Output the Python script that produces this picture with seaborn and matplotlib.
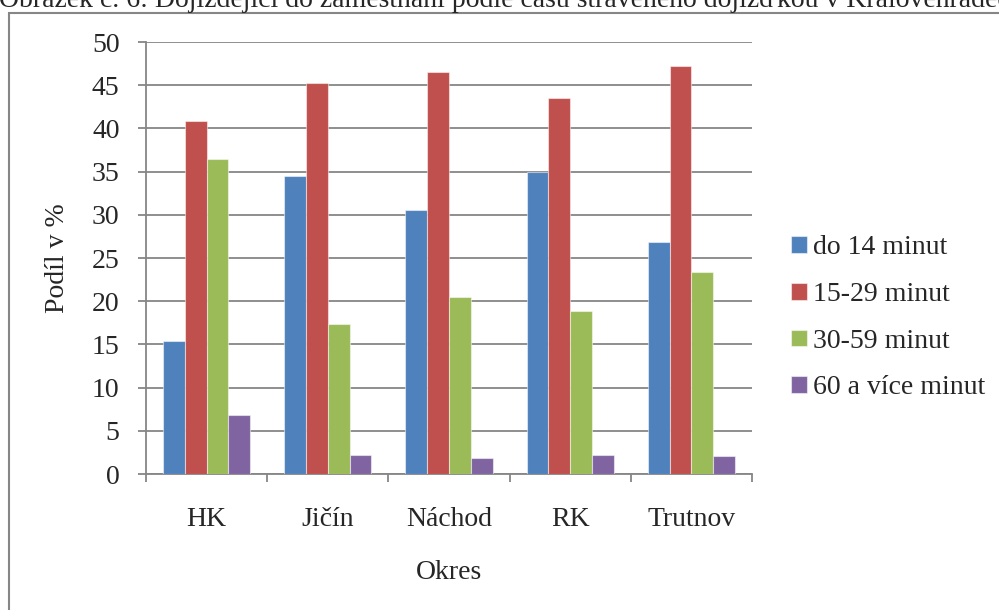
import numpy as np
import pandas as pd
import seaborn as sns
import matplotlib.pyplot as plt
from matplotlib.patches import Rectangle

# data
okresy = ['HK', 'Jičín', 'Náchod', 'RK', 'Trutnov']
kategorie = ['do 14 minut', '15-29 minut', '30-59 minut', '60 a více minut']
do_14 = [15.4, 34.5, 30.5, 34.9, 26.8]
od_15_29 = [40.8, 45.2, 46.5, 43.5, 47.2]
od_30_59 = [36.5, 17.4, 20.5, 18.9, 23.4]
nad_60 = [6.8, 2.2, 1.9, 2.2, 2.1]
barvy = ['#4F81BD', '#C0504D', '#9BBB59', '#8064A2']

hodnoty = [do_14, od_15_29, od_30_59, nad_60]
df = pd.DataFrame({
    'Okres': okresy * len(kategorie),
    'Podil': np.concatenate(hodnoty),
    'Cas': np.repeat(kategorie, len(okresy)),
})

sns.set_style('white')
plt.rcParams['font.family'] = ['Liberation Serif', 'DejaVu Serif']

W, H = 999, 610
fig = plt.figure(figsize=(W / 100, H / 100), dpi=100)

# outer chart frame (runs off the right and bottom edge)
fig.patches.append(Rectangle((9 / W, -0.1), 1.2, 1 - 13 / H + 0.1,
                             transform=fig.transFigure, fill=False,
                             edgecolor='#868686', linewidth=1.5))

# caption of the figure, cut by the top edge as in the source
fig.text(-0.001, 1 - 7 / H,
         'Obrázek č. 6: Dojíždějící do zaměstnání podle času stráveného dojížďkou v Královéhradeckém kraji',
         fontsize=20, ha='left', va='baseline')

ax = fig.add_axes([146 / W, 1 - 474 / H, (752 - 146) / W, (474 - 42) / H])
sns.barplot(data=df, x='Okres', y='Podil', hue='Cas', palette=barvy,
            width=0.72, saturation=1, ax=ax, edgecolor=(1, 1, 1, 0.5),
            linewidth=0.8, zorder=3)

ax.set_ylim(0, 50)
ax.set_xlim(-0.5, len(okresy) - 0.5)
ax.set_yticks(range(0, 51, 5))
ax.yaxis.grid(True, color='#868686', linewidth=1.3)
ax.set_axisbelow(True)
for s in ['top', 'right']:
    ax.spines[s].set_visible(False)
for s in ['left', 'bottom']:
    ax.spines[s].set_color('#868686')
    ax.spines[s].set_linewidth(1.3)

ax.tick_params(axis='y', length=6, width=1.3, color='#868686', left=True,
               labelsize=20, pad=13)
ax.set_xticks(np.arange(-0.5, len(okresy)), minor=True)
ax.tick_params(axis='x', which='minor', length=6, width=1.3, color='#868686',
               bottom=True)
ax.tick_params(axis='x', which='major', length=0, labelsize=20, pad=24)

ax.set_xlabel('Okres', fontsize=20, labelpad=20)
ax.set_ylabel('Podíl v %', fontsize=20, labelpad=16)

ax.legend(loc='center left', bbox_to_anchor=(1.065, 1 - (318 - 42) / 432),
          frameon=False, fontsize=20, handlelength=0.55, handleheight=0.55,
          handletextpad=0.22, labelspacing=0.78, borderaxespad=0,
          borderpad=0.0, title=None)

fig.savefig('out.png', dpi=100)
